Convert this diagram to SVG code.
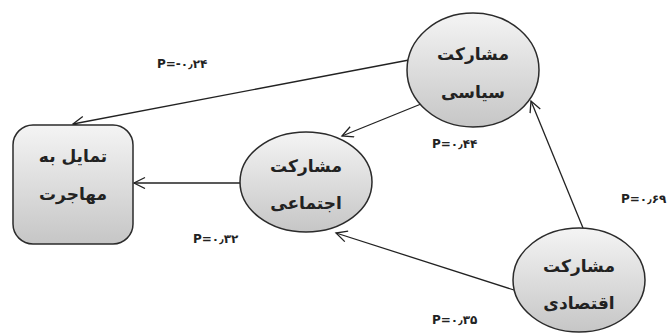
<svg xmlns="http://www.w3.org/2000/svg" width="670" height="335" viewBox="0 0 670 335">
<style>
.node{stroke:#2b2b2b;stroke-width:1.5;}
.ntext{font-family:"DejaVu Sans",sans-serif;font-weight:bold;font-size:17px;fill:#222;text-anchor:middle;}
.lbl{font-family:"DejaVu Sans","Liberation Sans",sans-serif;font-weight:bold;font-size:12px;fill:#222;direction:ltr;unicode-bidi:bidi-override;}
.conn{stroke:#222;stroke-width:1.3;fill:none;marker-end:url(#arr);}
</style>
<defs>
<linearGradient id="g" x1="0" y1="0" x2="0" y2="1">
<stop offset="0" stop-color="#f4f4f4"/>
<stop offset="1" stop-color="#c6c6c6"/>
</linearGradient>
<marker id="arr" markerWidth="14" markerHeight="14" refX="12" refY="6" orient="auto" markerUnits="userSpaceOnUse">
<path d="M1,0.5 L12,6 L1,11.5" fill="none" stroke="#222" stroke-width="1.3"/>
</marker>
</defs>
<rect width="670" height="335" fill="#fff"/>
<g id="connectors">
<line class="conn" x1="409" y1="60" x2="73" y2="124"/>
<line class="conn" x1="421" y1="104" x2="342" y2="136"/>
<line class="conn" x1="240" y1="183" x2="134" y2="183"/>
<line class="conn" x1="583" y1="228" x2="531" y2="101"/>
<line class="conn" x1="514" y1="290" x2="336" y2="233"/>
</g>
<g id="n-migration">
<rect class="node" x="13" y="125" width="120" height="119" rx="20" fill="url(#g)"/>
<text class="ntext" x="73" y="162">تمایل به</text>
<text class="ntext" x="73" y="200">مهاجرت</text>
</g>
<g id="n-social">
<ellipse class="node" cx="306" cy="182" rx="66" ry="50" fill="url(#g)"/>
<text class="ntext" x="306" y="172">مشارکت</text>
<text class="ntext" x="306" y="209">اجتماعی</text>
</g>
<g id="n-political">
<ellipse class="node" cx="473" cy="70" rx="66" ry="57" fill="url(#g)"/>
<text class="ntext" x="473" y="60">مشارکت</text>
<text class="ntext" x="473" y="98">سیاسی</text>
</g>
<g id="n-economic">
<ellipse class="node" cx="579" cy="280" rx="66" ry="52" fill="url(#g)"/>
<text class="ntext" x="579" y="272">مشارکت</text>
<text class="ntext" x="579" y="309">اقتصادی</text>
</g>
<g id="labels">
<text class="lbl" x="157" y="68">P=-۰٫۲۴</text>
<text class="lbl" x="432" y="148">P=۰٫۴۴</text>
<text class="lbl" x="621" y="203">P=۰٫۶۹</text>
<text class="lbl" x="193" y="243">P=۰٫۳۲</text>
<text class="lbl" x="432" y="324">P=۰٫۳۵</text>
</g>
</svg>
